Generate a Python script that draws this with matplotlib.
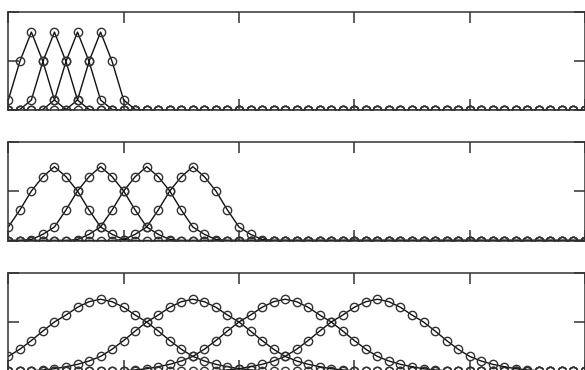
import numpy as np
from matplotlib import pyplot as plt

n = np.arange(51)

# peak positions (sample index) for the 3 panels
centers_top = [2, 4, 6, 8]
centers_mid = [4, 8, 12, 16]
centers_bot = [8, 16, 24, 32]

# one-sided shape of each window, value at distance 0,1,2,... from the peak
shape_top = [0.80, 0.50, 0.107, 0.01]
shape_mid = [0.753, 0.651, 0.505, 0.311, 0.138, 0.063, 0.01]
shape_bot = [0.729, 0.704, 0.647, 0.568, 0.497, 0.405, 0.308, 0.219, 0.146,
             0.099, 0.065, 0.041, 0.02, 0.008]


def make_curve(c, shape):
    y = np.zeros(len(n))
    for d, v in enumerate(shape):
        for i in (c - d, c + d):
            if 0 <= i < len(n):
                y[i] = v
    return y


fig = plt.figure(figsize=(5.85, 3.70), dpi=100)

boxes = [
    [0.0142, 0.7014, 0.9858, 0.2649],
    [0.0142, 0.3500, 0.9858, 0.2649],
    [0.0142, -0.0019, 0.9858, 0.2649],
]
panels = [(centers_top, shape_top), (centers_mid, shape_mid), (centers_bot, shape_bot)]

for box, (centers, shape) in zip(boxes, panels):
    ax = fig.add_axes(box)
    for c in centers:
        ax.plot(n, make_curve(c, shape), color="#111111", lw=1.0, marker="o", ms=6,
                mfc="none", mec="#333333", mew=1.0)
    ax.set_xlim(0, 50)
    ax.set_ylim(0, 1)
    ax.set_xticks([0, 10, 20, 30, 40, 50])
    ax.set_yticks([0, 0.5, 1])
    ax.set_xticklabels([])
    ax.set_yticklabels([])
    ax.tick_params(direction="in", length=8, width=1.1, top=True, right=True, color="#333333")
    for s in ax.spines.values():
        s.set_linewidth(1.1)
        s.set_color("#333333")

fig.savefig("out.png", dpi=100)
